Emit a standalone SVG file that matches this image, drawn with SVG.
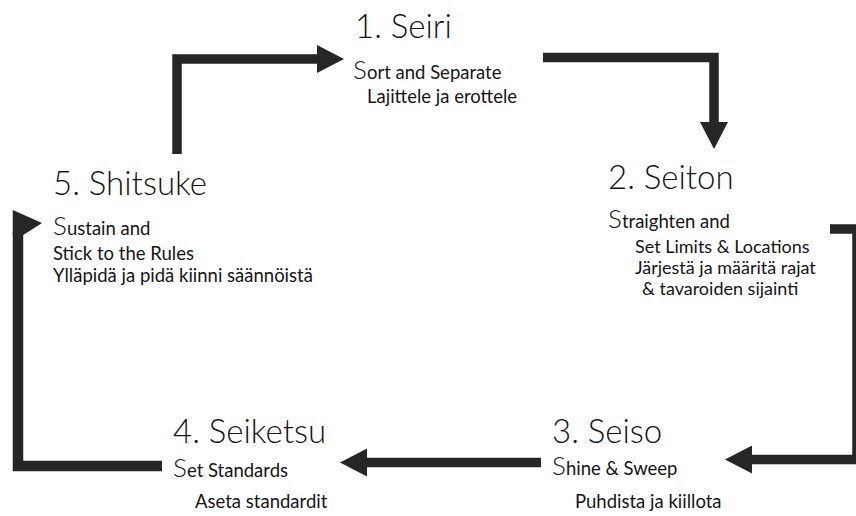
<svg xmlns="http://www.w3.org/2000/svg" width="856" height="516" viewBox="0 0 856 516">
  <style>
    text { font-family: Lato, "Open Sans", "Liberation Sans", sans-serif; fill: #151515; }
    .title { font-size: 33px; font-weight: 300; }
    .sub { font-size: 18.5px; }
    .sm { font-size: 18px; }
    .big { font-size: 26px; font-weight: 300; }
    .conn { fill: none; stroke: #262626; stroke-width: 9.5; stroke-linejoin: miter; stroke-linecap: butt; }
    .head { fill: #262626; }
  </style>
  <defs>
    <marker id="arrow" markerUnits="userSpaceOnUse" viewBox="0 0 27 28" refX="0" refY="14" markerWidth="27" markerHeight="28" orient="auto">
      <path d="M0,0 L27,14 L0,28 Z" fill="#262626"/>
    </marker>
  </defs>
  <rect width="856" height="516" fill="#ffffff"/>

  <g id="connectors">
    <polyline class="conn" points="177,154 177,59 317,59" marker-end="url(#arrow)"/>
    <polyline class="conn" points="543,57.5 714,57.5 714,122" marker-end="url(#arrow)"/>
    <polyline class="conn" points="830,229 857,229 857,459.5 752,459.5" marker-end="url(#arrow)"/>
    <polyline class="conn" points="541,462.5 367,462.5" marker-end="url(#arrow)"/>
    <polyline class="conn" points="162,466 18,466 18,232" style="stroke-width:10.5"/>
    <polygon class="head" points="12.75,210 42,223 23.25,235 12.75,235"/>
  </g>

  <g id="seiri">
    <text class="title" x="355" y="38">1. Seiri</text>
    <text x="353" y="79"><tspan class="big">S</tspan><tspan class="sub">ort and Separate</tspan></text>
    <text class="sub" x="367" y="103">Lajittele ja erottele</text>
  </g>

  <g id="seiton">
    <text class="title" x="608" y="189">2. Seiton</text>
    <text x="608" y="228"><tspan class="big">S</tspan><tspan class="sub">traighten and</tspan></text>
    <text class="sm" x="635" y="253">Set Limits &amp; Locations</text>
    <text class="sm" x="635" y="274">Järjestä ja määritä rajat</text>
    <text class="sm" x="642" y="295">&amp; tavaroiden sijainti</text>
  </g>

  <g id="seiso">
    <text class="title" x="552" y="443">3. Seiso</text>
    <text x="552" y="475"><tspan class="big">S</tspan><tspan class="sub">hine &amp; Sweep</tspan></text>
    <text class="sub" x="575" y="508">Puhdista ja kiillota</text>
  </g>

  <g id="seiketsu">
    <text class="title" x="173" y="443">4. Seiketsu</text>
    <text x="173" y="477"><tspan class="big">S</tspan><tspan class="sub">et Standards</tspan></text>
    <text class="sub" x="195" y="508">Aseta standardit</text>
  </g>

  <g id="shitsuke">
    <text class="title" x="53" y="195">5. Shitsuke</text>
    <text x="53" y="235"><tspan class="big">S</tspan><tspan class="sub">ustain and</tspan></text>
    <text class="sub" x="53" y="260">Stick to the Rules</text>
    <text class="sub" x="53" y="282">Ylläpidä ja pidä kiinni säännöistä</text>
  </g>
</svg>
